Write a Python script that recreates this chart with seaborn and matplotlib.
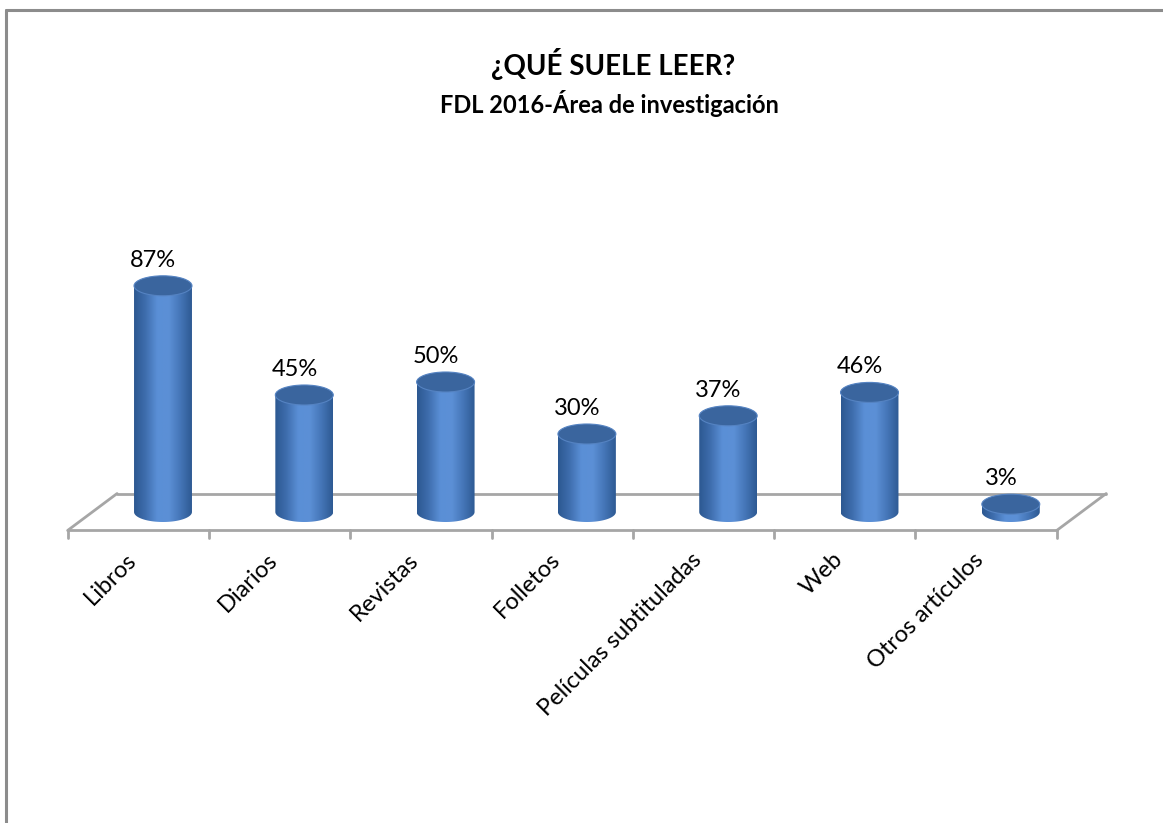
import matplotlib.pyplot as plt
import seaborn as sns
import numpy as np
from matplotlib.colors import LinearSegmentedColormap
from matplotlib.patches import Ellipse, PathPatch
from matplotlib.path import Path
from matplotlib.lines import Line2D

categories = ["Libros", "Diarios", "Revistas", "Folletos",
              "Películas subtituladas", "Web", "Otros artículos"]
values = [87, 45, 50, 30, 37, 46, 3]
value_labels = ["87%", "45%", "50%", "30%", "37%", "46%", "3%"]

title = "¿QUÉ SUELE LEER?"
subtitle = "FDL 2016-Área de investigación"

W, H = 1163, 823
sns.set_theme(style="white")
plt.rcParams["font.family"] = ["Lato", "DejaVu Sans"]

fig = plt.figure(figsize=(W / 100, H / 100), dpi=100)
ax = fig.add_axes([0, 0, 1, 1])

# pixel mapping: x_px = 163 + 141.3*i ; y_px = 512 - 2.6*v
px_per_cat = 141.3
px_per_pct = 2.6
x0_px, y0_px = 163, 512

sns.barplot(x=categories, y=values, width=0.41, color="#4a7cc0", ax=ax,
            saturation=1)

ax.set_xlim((0 - x0_px) / px_per_cat, (W - x0_px) / px_per_cat)
ax.set_ylim((y0_px - H) / px_per_pct, y0_px / px_per_pct)
ax.axis("off")

# floor (depth offsets)
dx = 0.175
dv = 7.1
n = len(categories)
fl = "#a6a6a6"
left, right = -0.5, n - 0.5
ax.plot([left - dx, right - dx], [-dv, -dv], color=fl, lw=2, zorder=1)
ax.plot([left + dx, right + dx], [dv, dv], color=fl, lw=2, zorder=1)
ax.plot([left - dx, left + dx], [-dv, dv], color=fl, lw=2, zorder=1)
ax.plot([right - dx, right + dx], [-dv, dv], color=fl, lw=2, zorder=1)
for k in range(n + 1):
    xt = k - 0.5 - dx
    ax.plot([xt, xt], [-dv, -dv - 8 / px_per_pct], color=fl, lw=2, zorder=1)

# cylinder shading
cmap = LinearSegmentedColormap.from_list(
    "cyl", ["#2c5891", "#3f6eae", "#5a8fd6", "#5c90d6", "#4576b8", "#2e5a93"])
grad = np.linspace(0, 1, 200).reshape(1, -1)

b = 10 / px_per_pct  # ellipse semi-height (data units)
for i, p in enumerate(list(ax.patches)):
    c = p.get_x() + p.get_width() / 2
    a = p.get_width() / 2
    v = p.get_height()
    p.set_visible(False)
    t = np.linspace(np.pi, 2 * np.pi, 60)
    verts = [(c - a, v), (c - a, 0)]
    verts += list(zip(c + a * np.cos(t), b * np.sin(t)))
    verts += [(c + a, v), (c - a, v)]
    path = Path(verts)
    clip = PathPatch(path, transform=ax.transData, facecolor="none",
                     edgecolor="none")
    ax.add_patch(clip)
    im = ax.imshow(grad, cmap=cmap, extent=[c - a, c + a, -b, v + b],
                   aspect="auto", zorder=3, interpolation="bilinear")
    im.set_clip_path(clip)
    top = Ellipse((c, v), 2 * a, 2 * b, facecolor="#3a659e",
                  edgecolor="#5583c2", lw=0.8, zorder=4)
    ax.add_patch(top)
    ax.text(c - 0.07, v + b + 2.0, value_labels[i], ha="center",
            va="bottom", fontsize=17, color="black", zorder=5)

ax.set_xlim((0 - x0_px) / px_per_cat, (W - x0_px) / px_per_cat)
ax.set_ylim((y0_px - H) / px_per_pct, y0_px / px_per_pct)

# category labels
for i, lab in enumerate(categories):
    ax.text(i - dx - 0.04, -dv - 26 / px_per_pct, lab, rotation=45,
            rotation_mode="anchor", ha="right", va="center", fontsize=17,
            color="black")

# titles
fig.text(613 / W, 1 - 75 / H, title, ha="center", va="baseline",
         fontsize=20, fontweight="bold", color="black")
fig.text(609 / W, 1 - 113 / H, subtitle, ha="center", va="baseline",
         fontsize=17, fontweight="bold", color="black")

# chart area border (left and top visible)
bc = "#8c8c8c"
fig.add_artist(Line2D([6 / W, 6 / W], [0, 1 - 10 / H], color=bc, lw=2.2,
                      transform=fig.transFigure))
fig.add_artist(Line2D([6 / W, 1], [1 - 10 / H, 1 - 10 / H], color=bc, lw=2.2,
                      transform=fig.transFigure))

fig.savefig("out.png", dpi=100, facecolor="white")
plt.close(fig)
